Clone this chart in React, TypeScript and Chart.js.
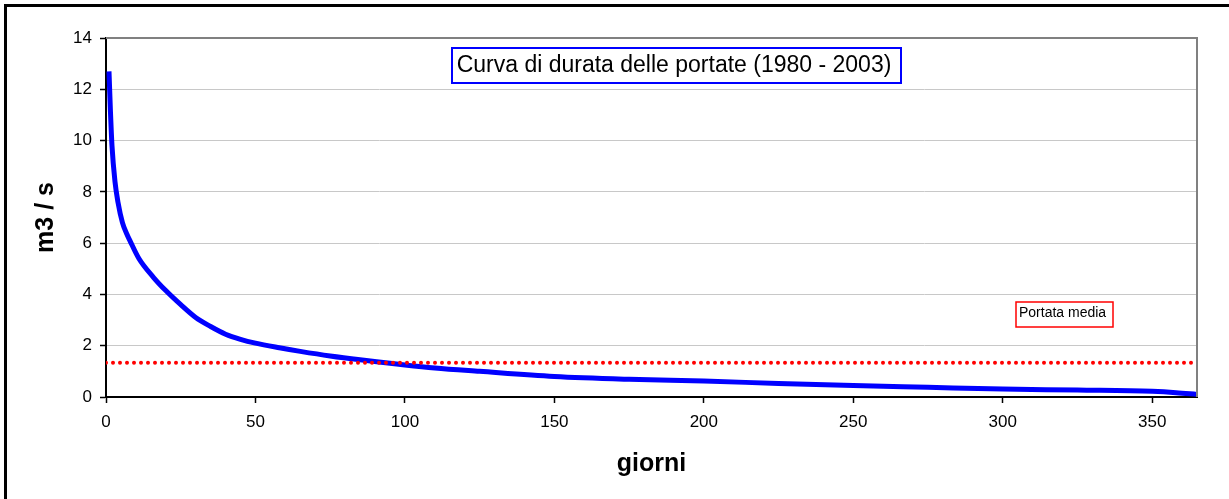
import React, { useEffect, useRef } from "react";
import { Chart, registerables } from "chart.js";

Chart.register(...registerables);

const days = [1, 1.5, 2, 3, 4, 5.5, 7, 8, 11, 16, 20, 25, 30, 35, 40, 45, 50, 58, 65, 75, 85, 95, 100, 110, 125, 150, 175, 200, 225, 250, 275, 300, 325, 350, 358, 365];
const flows = [12.7, 11.1, 9.8, 8.4, 7.6, 6.8, 6.35, 6.1, 5.4, 4.65, 4.15, 3.6, 3.1, 2.75, 2.45, 2.25, 2.1, 1.92, 1.78, 1.6, 1.45, 1.32, 1.25, 1.13, 1.0, 0.8, 0.69, 0.62, 0.53, 0.45, 0.38, 0.31, 0.27, 0.22, 0.17, 0.1];
const meanDays = [0, 365];
const meanFlow = 1.34;
const xTicks = [0, 50, 100, 150, 200, 250, 300, 350];
const yTicks = [0, 2, 4, 6, 8, 10, 12, 14];
const chartTitle = "Curva di durata delle portate (1980 - 2003)";
const meanLabel = "Portata media";
const xTitle = "giorni";
const yTitle = "m3 / s";

const FONT = "'Liberation Sans', Arial, sans-serif";

const decorPlugin = {
  id: "decor",
  afterDraw(chart: any) {
    const ctx = chart.ctx;
    const a = chart.chartArea;
    ctx.save();
    ctx.strokeStyle = "#808080";
    ctx.lineWidth = 2;
    ctx.beginPath();
    ctx.moveTo(a.left, a.top);
    ctx.lineTo(a.right, a.top);
    ctx.lineTo(a.right, a.bottom);
    ctx.stroke();
    ctx.strokeStyle = "#000";
    ctx.lineWidth = 3;
    ctx.strokeRect(5.5, 5.5, 1240, 510);
    ctx.fillStyle = "#fff";
    ctx.fillRect(452, 48, 449, 35);
    ctx.strokeStyle = "#0000ff";
    ctx.lineWidth = 2;
    ctx.strokeRect(452, 48, 449, 35);
    ctx.fillStyle = "#000";
    ctx.font = `23px ${FONT}`;
    ctx.textAlign = "center";
    ctx.textBaseline = "middle";
    ctx.fillText(chartTitle, 674, 66);
    ctx.fillStyle = "#fff";
    ctx.fillRect(1016, 302, 97, 25);
    ctx.strokeStyle = "#ff0000";
    ctx.lineWidth = 1.5;
    ctx.strokeRect(1016, 302, 97, 25);
    ctx.fillStyle = "#000";
    ctx.font = `14px ${FONT}`;
    ctx.textAlign = "left";
    ctx.textBaseline = "alphabetic";
    ctx.fillText(meanLabel, 1019, 317);
    ctx.restore();
  },
};

export default function App() {
  const ref = useRef<HTMLCanvasElement>(null);
  useEffect(() => {
    if (!ref.current) return;
    const chart = new Chart(ref.current, {
      type: "line",
      data: {
        datasets: [
          {
            data: meanDays.map((d) => ({ x: d, y: meanFlow })),
            borderColor: "#ff0000",
            borderWidth: 4,
            borderDash: [0, 7],
            borderCapStyle: "round",
            pointRadius: 0,
            fill: false,
          },
          {
            data: days.map((d, i) => ({ x: d, y: flows[i] })),
            borderColor: "#0000ff",
            borderWidth: 5,
            pointRadius: 0,
            cubicInterpolationMode: "monotone",
            fill: false,
          },
        ],
      },
      options: {
        responsive: false,
        animation: false,
        layout: { padding: { left: 0, right: 32, top: 38, bottom: 0 } },
        plugins: { legend: { display: false }, tooltip: { enabled: false } },
        scales: {
          x: {
            type: "linear",
            min: 0,
            max: 365,
            afterBuildTicks: (s: any) => {
              s.ticks = xTicks.map((v) => ({ value: v }));
            },
            afterFit: (s: any) => {
              s.height = 102;
            },
            ticks: { color: "#000", font: { family: FONT, size: 17 }, padding: 9, maxRotation: 0 },
            grid: { drawOnChartArea: false, drawTicks: true, tickLength: 6, tickColor: "#000", tickWidth: 1.5 },
            border: { color: "#000", width: 2 },
            title: {
              display: true,
              text: xTitle,
              color: "#000",
              font: { family: FONT, size: 25, weight: "bold" },
              padding: { top: 0, bottom: 20 },
            },
          },
          y: {
            type: "linear",
            min: 0,
            max: 14,
            afterBuildTicks: (s: any) => {
              s.ticks = yTicks.map((v) => ({ value: v }));
            },
            afterFit: (s: any) => {
              s.width = 106;
            },
            ticks: { color: "#000", font: { family: FONT, size: 17 }, padding: 8 },
            grid: { color: "#c8c8c8", lineWidth: 1, tickLength: 6, tickColor: "#000", tickWidth: 1.5 },
            border: { color: "#000", width: 2 },
            title: {
              display: true,
              text: yTitle,
              color: "#000",
              font: { family: FONT, size: 25, weight: "bold" },
              padding: { top: 31, bottom: 0 },
            },
          },
        },
      },
      plugins: [decorPlugin],
    } as any);
    return () => chart.destroy();
  }, []);
  return (
    <div style={{ position: "absolute", left: 0, top: 0, width: 1229, height: 499, background: "#fff" }}>
      <canvas ref={ref} width={1229} height={499} />
    </div>
  );
}
